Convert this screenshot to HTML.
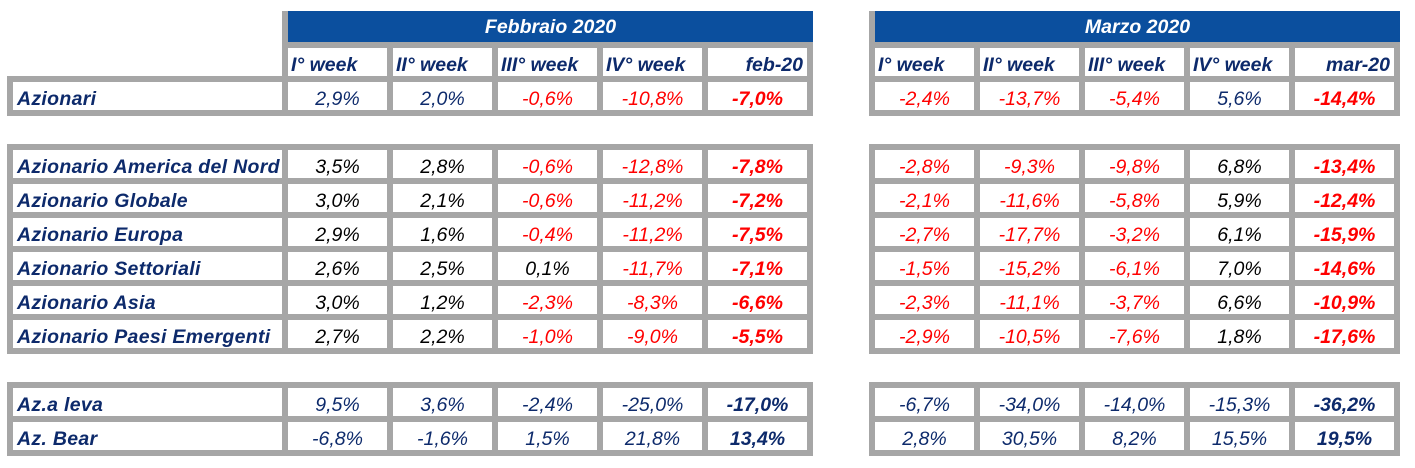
<!DOCTYPE html>
<html><head><meta charset="utf-8"><style>
body{margin:0;width:1415px;height:468px;background:#fff;position:relative;overflow:hidden;font-family:"Liberation Sans",Arial,sans-serif;font-style:italic}
.g{position:absolute;background:#a6a6a6}
.b{position:absolute;background:#0b4f9e;color:#fff;font-weight:bold;font-size:19.5px;text-align:center;line-height:33px}
.c{position:absolute;background:#fff;height:28px;line-height:34px;font-size:19.5px;white-space:nowrap;overflow:hidden}
.n{color:#0d2a6b}.r{color:#ff0000}.k{color:#000}
</style></head><body>
<script>
const monthTitles=["Febbraio 2020","Marzo 2020"];
const colHeaders=[["I° week","II° week","III° week","IV° week","feb-20"],["I° week","II° week","III° week","IV° week","mar-20"]];
const rowLabels=["Azionari","Azionario America del Nord","Azionario Globale","Azionario Europa","Azionario Settoriali","Azionario Asia","Azionario Paesi Emergenti","Az.a leva","Az. Bear"];
const febValues=[[2.9,2.0,-0.6,-10.8,-7.0],[3.5,2.8,-0.6,-12.8,-7.8],[3.0,2.1,-0.6,-11.2,-7.2],[2.9,1.6,-0.4,-11.2,-7.5],[2.6,2.5,0.1,-11.7,-7.1],[3.0,1.2,-2.3,-8.3,-6.6],[2.7,2.2,-1.0,-9.0,-5.5],[9.5,3.6,-2.4,-25.0,-17.0],[-6.8,-1.6,1.5,21.8,13.4]];
const marValues=[[-2.4,-13.7,-5.4,5.6,-14.4],[-2.8,-9.3,-9.8,6.8,-13.4],[-2.1,-11.6,-5.8,5.9,-12.4],[-2.7,-17.7,-3.2,6.1,-15.9],[-1.5,-15.2,-6.1,7.0,-14.6],[-2.3,-11.1,-3.7,6.6,-10.9],[-2.9,-10.5,-7.6,1.8,-17.6],[-6.7,-34.0,-14.0,-15.3,-36.2],[2.8,30.5,8.2,15.5,19.5]];
const rowGroups=[0,1,1,1,1,1,1,2,2];
const groupTops=[76,144,382];
const tableX=[288,875];
function fmt(v){return v.toFixed(1).replace('.',',')+'%';}
function box(cls,x,y,w,h){const d=document.createElement('div');d.className=cls;d.style.left=x+'px';d.style.top=y+'px';d.style.width=w+'px';d.style.height=h+'px';document.body.appendChild(d);return d;}
[0,1].forEach(t=>{
  const x0=tableX[t];
  const g=box('g',x0-6,11,531,71);
  
  
  const b=box('b',x0,11,525,31);
  b.textContent=monthTitles[t];
  
  
  colHeaders[t].forEach((h,i)=>{
    const c=box('c n',x0+i*105,48,99,28);
    c.textContent=h;c.style.fontWeight='bold';
    c.style.textAlign=i==4?'right':'left';
    c.style.textIndent=i==4?'0':'3px';
    if(i==4){c.style.width='95px';c.style.paddingRight='4px';}
    
    
  });
});
const counts=[1,6,2];
counts.forEach((n,gi)=>{
  const top=groupTops[gi];
  const h=6+n*34;
  const g1=box('g',7,top,806,h);
  
  
  const g2=box('g',869,top,531,h);
  
  
});
let idx=[0,0,0];
rowLabels.forEach((lab,r)=>{
  const gi=rowGroups[r];
  const y=groupTops[gi]+6+idx[gi]*34;idx[gi]++;
  const l=box('c n',13,y,269,28);
  l.textContent=lab;l.style.fontWeight='bold';l.style.textIndent='4px';l.style.letterSpacing='0.3px';
  
  
  [febValues[r],marValues[r]].forEach((vals,t)=>{
    vals.forEach((v,i)=>{
      let col='n';
      if(gi==1) col=v<0?'r':'k';
      else if(gi==0) col=v<0?'r':'n';
      const c=box('c '+col,tableX[t]+i*105,y,99,28);
      c.textContent=fmt(v);c.style.textAlign='center';
      if(i==4)c.style.fontWeight='bold';
      
      
    });
  });
});
</script>
</body></html>
